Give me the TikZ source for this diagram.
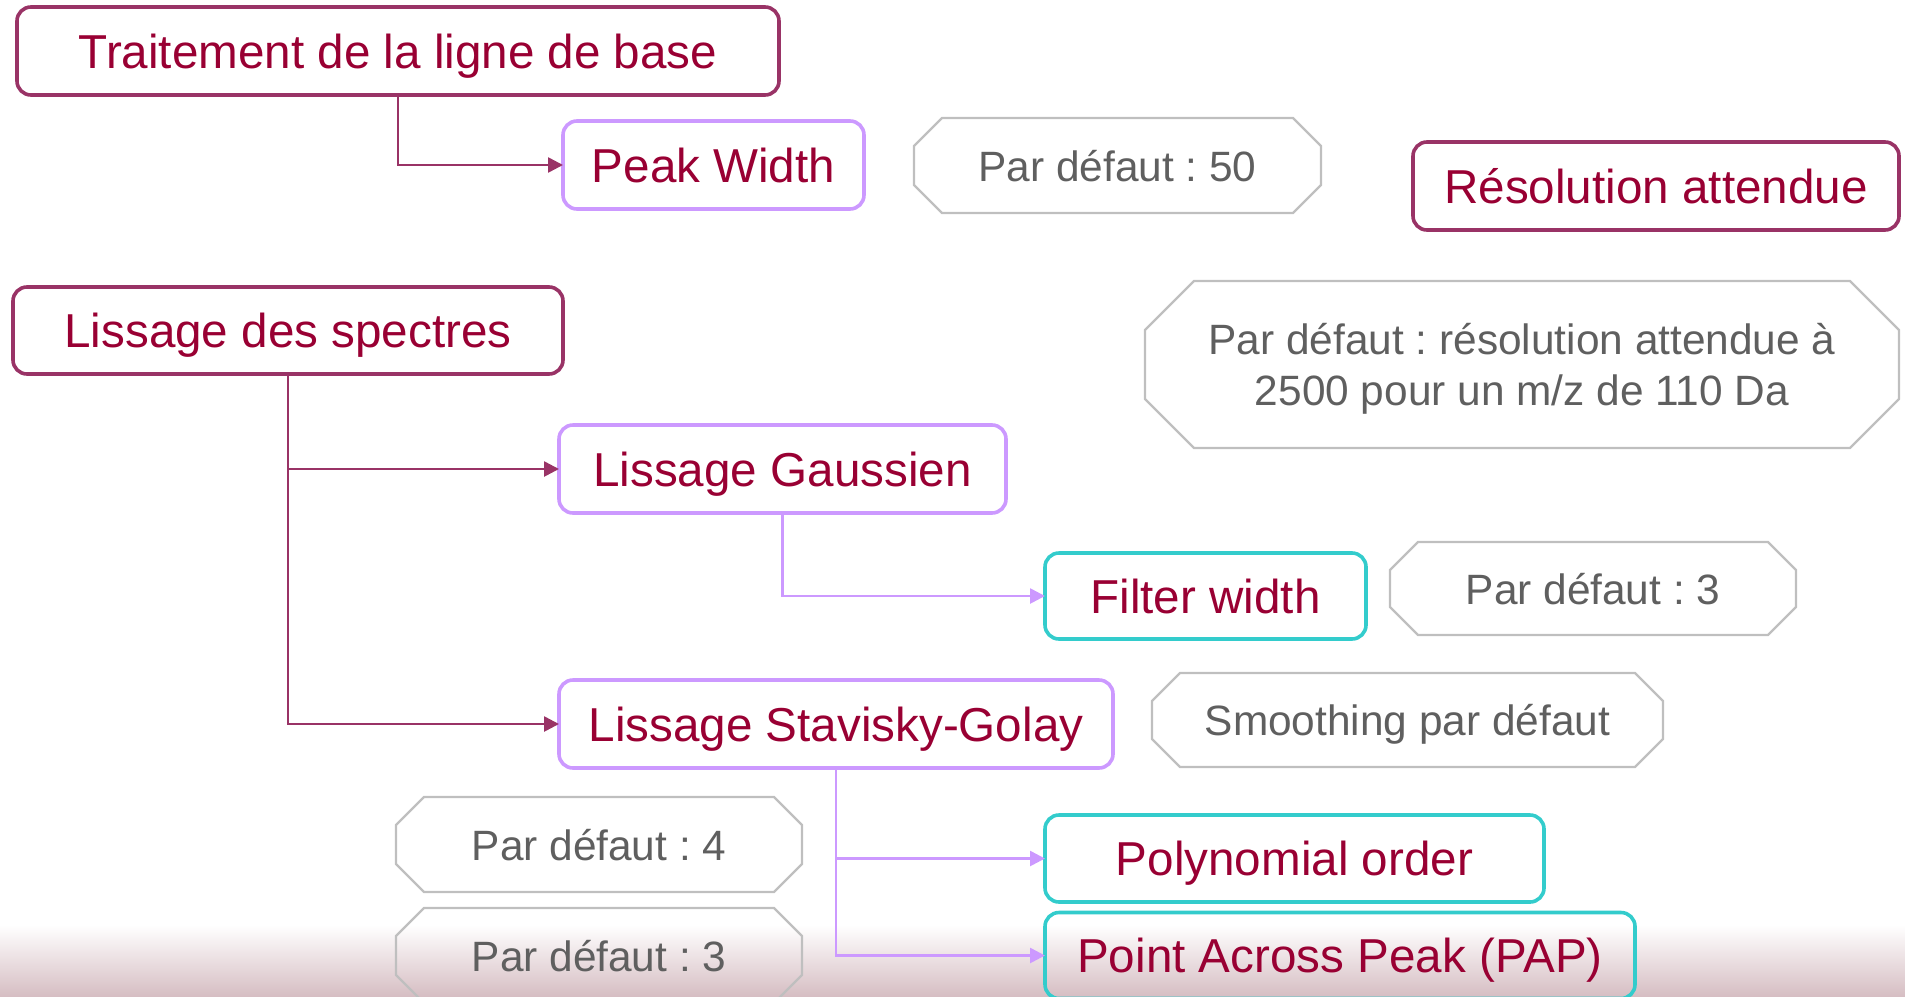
\documentclass[tikz,border=0pt]{standalone}
\usepackage{fontspec}
\setmainfont{Liberation Sans}
\usetikzlibrary{calc,arrows.meta}
\frenchspacing
\definecolor{maroontxt}{HTML}{990033}
\definecolor{mainline}{HTML}{993366}
\definecolor{purpleline}{HTML}{CC99FF}
\definecolor{tealline}{HTML}{33CCCC}
\definecolor{grayline}{HTML}{BFBFBF}
\definecolor{graytxt}{HTML}{5F5F5F}
\definecolor{shadebot}{HTML}{D6BEC3}
\tikzset{
  basebox/.style={rectangle, rounded corners=7pt, line width=1.8pt, inner sep=0pt, outer sep=0pt,
    text=maroontxt, font=\fontsize{23.8}{28}\selectfont, align=center, text depth=0pt},
  mainbox/.style={basebox, draw=mainline},
  purplebox/.style={basebox, draw=purpleline},
  tealbox/.style={basebox, draw=tealline},
  graybox/.style={rectangle, inner sep=0pt, outer sep=0pt, text=graytxt,
    font=\fontsize{21.2}{25.5}\selectfont, align=center, text depth=0pt},
  octline/.style={draw=grayline, line width=1.2pt, line join=miter},
  mainconn/.style={draw=mainline, line width=1.3pt, -{Triangle[length=7.5pt,width=7.5pt]}},
  purpleconn/.style={draw=purpleline, line width=1.3pt, -{Triangle[length=7.5pt,width=7.5pt]}}
}
\newcommand\octo[2]{%
  \draw[octline] ($(#1.north west)+(#2,0pt)$) -- ($(#1.north east)+(-#2,0pt)$)
    -- ($(#1.north east)+(0pt,-#2)$) -- ($(#1.south east)+(0pt,#2)$)
    -- ($(#1.south east)+(-#2,0pt)$) -- ($(#1.south west)+(#2,0pt)$)
    -- ($(#1.south west)+(0pt,#2)$) -- ($(#1.north west)+(0pt,-#2)$) -- cycle;}
\begin{document}
\begin{tikzpicture}[x=0.5pt,y=-0.5pt]
\useasboundingbox (0,0) rectangle (1905,996);
\clip (0,0) rectangle (1905,996);
\shade[top color=white, bottom color=shadebot] (0,925) rectangle (1905,996);

\node[mainbox, minimum width=381pt, minimum height=44pt] (trait) at (398,51) {Traitement de la ligne de base};
\node[purplebox, minimum width=150.5pt, minimum height=44pt] (peak) at (713.5,165) {Peak Width};
\node[graybox, minimum width=203.5pt, minimum height=47.5pt] (p50) at (1117.5,165.5) {Par défaut : 50};
\node[mainbox, minimum width=243pt, minimum height=44pt] (reso) at (1656,186) {Résolution attendue};
\node[mainbox, minimum width=275pt, minimum height=43.5pt] (liss) at (288,330.5) {Lissage des spectres};
\node[graybox, minimum width=377pt, minimum height=83.5pt] (pres) at (1522,364.5) {Par défaut : résolution attendue à\\2500 pour un m/z de 110 Da};
\node[purplebox, minimum width=223.5pt, minimum height=44pt] (gauss) at (782.5,469) {Lissage Gaussien};
\node[tealbox, minimum width=160.5pt, minimum height=43pt] (filter) at (1205.5,596) {Filter width};
\node[graybox, minimum width=203pt, minimum height=46.5pt] (p3a) at (1593,588.5) {Par défaut : 3};
\node[purplebox, minimum width=277pt, minimum height=44pt] (stav) at (836,724) {Lissage Stavisky-Golay};
\node[graybox, minimum width=255.5pt, minimum height=47pt] (smooth) at (1407.5,720) {Smoothing par défaut};
\node[graybox, minimum width=203pt, minimum height=47.5pt] (p4) at (599,844.5) {Par défaut : 4};
\node[tealbox, minimum width=249.5pt, minimum height=43.5pt] (poly) at (1294.5,858.5) {Polynomial order};
\node[graybox, minimum width=203pt, minimum height=47.5pt] (p3b) at (599,955.5) {Par défaut : 3};
\node[tealbox, minimum width=295pt, minimum height=43pt] (pap) at (1340,955.5) {Point Across Peak (PAP)};

\octo{p50}{14pt}
\octo{pres}{24.5pt}
\octo{p3a}{14pt}
\octo{smooth}{14pt}
\octo{p4}{14pt}
\octo{p3b}{14pt}

\draw[mainconn] (trait.south) |- (peak.west);
\draw[mainconn] (liss.south) |- (gauss.west);
\draw[mainconn] (liss.south) |- (stav.west);
\draw[purpleconn] (gauss.south) |- (filter.west);
\draw[purpleconn] (stav.south) |- (poly.west);
\draw[purpleconn] (stav.south) |- (pap.west);
\end{tikzpicture}
\end{document}
